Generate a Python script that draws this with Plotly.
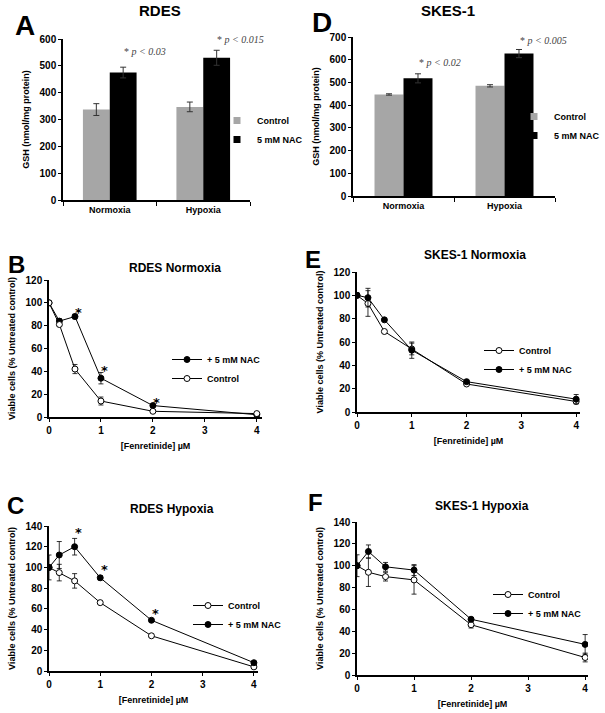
import plotly.graph_objects as go

# ---------------- data ----------------
conditions = ["Normoxia", "Hypoxia"]
rdes_gsh_control = [337, 347]
rdes_gsh_control_err = [22, 18]
rdes_gsh_nac = [475, 530]
rdes_gsh_nac_err = [20, 28]
rdes_p_labels = ["* <i>p < 0.03</i>", "* <i>p < 0.015</i>"]

skes_gsh_control = [447, 485]
skes_gsh_control_err = [3, 5]
skes_gsh_nac = [518, 627]
skes_gsh_nac_err = [20, 18]
skes_p_labels = ["* <i>p < 0.02</i>", "* <i>p < 0.005</i>"]

dose = [0, 0.2, 0.5, 1, 2, 4]
rdes_norm_ctrl = [100, 81, 42, 14, 5, 3]
rdes_norm_ctrl_err = [0, 1.5, 4, 3.5, 1, 1]
rdes_norm_nac = [100, 84, 88, 34, 10, 2]
rdes_norm_nac_err = [0, 2, 2, 5, 1, 1]
rdes_norm_sig = [0.5, 1, 2]

skes_norm_ctrl = [100, 93, 69, 54, 24, 9]
skes_norm_ctrl_err = [1, 11, 1, 5, 1, 1]
skes_norm_nac = [100, 98, 79, 53, 26, 11]
skes_norm_nac_err = [2, 8, 1, 7, 1, 4]

rdes_hyp_ctrl = [100, 95, 87, 66, 34, 4]
rdes_hyp_ctrl_err = [12, 8, 7, 1, 1, 1]
rdes_hyp_nac = [100, 112, 120, 90, 49, 8]
rdes_hyp_nac_err = [0, 13, 8, 2, 1, 1]
rdes_hyp_sig = [0.5, 1, 2]

skes_hyp_ctrl = [100, 94, 90, 87, 46, 16]
skes_hyp_ctrl_err = [10, 13, 4, 13, 3, 4]
skes_hyp_nac = [100, 113, 99, 96, 51, 28]
skes_hyp_nac_err = [0, 6, 4, 5, 1, 9]

# ---------------- helpers ----------------
W, H = 605, 713
def px(x):
    return x / W
def py(y):
    return 1 - y / H

FONT = "Liberation Sans"
GRAY = "#a6a6a6"

fig = go.Figure()

cat_x = [i + 0.5 for i in range(len(conditions))]

def add_bars(xa, ya, ctrl, ctrl_err, nac, nac_err, leg):
    for vals, errs, name, col in [(ctrl, ctrl_err, "Control", GRAY), (nac, nac_err, "5 mM NAC", "black")]:
        fig.add_trace(go.Bar(x=cat_x, y=vals, name=name, marker_color=col,
                             marker_line_width=0, showlegend=False,
                             error_y=dict(type="data", array=errs, color="#333", thickness=1, width=3),
                             xaxis=xa, yaxis=ya))
        # small square legend key
        fig.add_trace(go.Scatter(x=[None], y=[None], mode="markers", name=name,
                                 marker=dict(symbol="square", size=7, color=col),
                                 xaxis=xa, yaxis=ya, legend=leg))

add_bars("x", "y", rdes_gsh_control, rdes_gsh_control_err, rdes_gsh_nac, rdes_gsh_nac_err, "legend")
add_bars("x2", "y2", skes_gsh_control, skes_gsh_control_err, skes_gsh_nac, skes_gsh_nac_err, "legend2")

def line_trace(y, err, name, filled, xa, ya, leg):
    return go.Scatter(x=dose, y=y, name=name, mode="lines+markers",
                      line=dict(color="black", width=1),
                      marker=dict(symbol="circle", size=6,
                                  color="black" if filled else "white",
                                  line=dict(color="black", width=1)),
                      error_y=dict(type="data", array=err, color="black", thickness=0.8, width=2.5),
                      xaxis=xa, yaxis=ya, legend=leg)

# B (NAC listed first in legend)
fig.add_trace(line_trace(rdes_norm_nac, rdes_norm_nac_err, "+ 5 mM NAC", True, "x3", "y3", "legend3"))
fig.add_trace(line_trace(rdes_norm_ctrl, rdes_norm_ctrl_err, "Control", False, "x3", "y3", "legend3"))
# E
fig.add_trace(line_trace(skes_norm_ctrl, skes_norm_ctrl_err, "Control", False, "x4", "y4", "legend4"))
fig.add_trace(line_trace(skes_norm_nac, skes_norm_nac_err, "+ 5 mM NAC", True, "x4", "y4", "legend4"))
# C
fig.add_trace(line_trace(rdes_hyp_ctrl, rdes_hyp_ctrl_err, "Control", False, "x5", "y5", "legend5"))
fig.add_trace(line_trace(rdes_hyp_nac, rdes_hyp_nac_err, "+ 5 mM NAC", True, "x5", "y5", "legend5"))
# F
fig.add_trace(line_trace(skes_hyp_ctrl, skes_hyp_ctrl_err, "Control", False, "x6", "y6", "legend6"))
fig.add_trace(line_trace(skes_hyp_nac, skes_hyp_nac_err, "+ 5 mM NAC", True, "x6", "y6", "legend6"))

tickfont = dict(family=FONT, size=10, color="black", weight="bold")
titlefont = dict(family=FONT, size=9, color="black", weight="bold")

def bar_xaxis(x0, x1, anchor):
    return dict(domain=[px(x0), px(x1)], range=[0, 2], anchor=anchor, automargin=False,
                tickmode="array", tickvals=cat_x, ticktext=conditions, ticks="",
                tickfont=dict(family=FONT, size=9, color="black", weight="bold"),
                showline=True, linecolor="black", linewidth=1.5,
                showgrid=False, zeroline=False, fixedrange=True,
                minor=dict(tick0=0, dtick=1, ticks="outside", ticklen=4, tickcolor="black", tickwidth=1))

def yax(y0, y1, rng, dt, anchor, title):
    return dict(domain=[py(y1), py(y0)], range=rng, dtick=dt, anchor=anchor, automargin=False,
                ticks="outside", ticklen=3, tickcolor="black", tickwidth=1,
                tickfont=tickfont, showline=True, linecolor="black", linewidth=1.5,
                showgrid=False, zeroline=False,
                title=dict(text=title, font=titlefont, standoff=8))

def line_xaxis(x0, x1, xmax, anchor):
    return dict(domain=[px(x0), px(x1)], range=[0, xmax], dtick=1, anchor=anchor, automargin=False,
                ticks="outside", ticklen=3, tickcolor="black", tickwidth=1,
                tickfont=tickfont, showline=True, linecolor="black", linewidth=1.5,
                showgrid=False, zeroline=False,
                title=dict(text="[Fenretinide] µM", font=titlefont, standoff=8))

viab = "Viable cells (% Untreated control)"
gsh = "GSH (nmol/mg protein)"

legend_common = dict(font=dict(family=FONT, size=9, color="black", weight="bold"),
                     bgcolor="rgba(0,0,0,0)", borderwidth=0, xanchor="left", yanchor="top",
                     tracegroupgap=0, itemwidth=30)

def leg(x, y):
    d = dict(legend_common)
    d.update(x=px(x), y=py(y))
    return d

fig.update_layout(
    width=W, height=H, margin=dict(l=0, r=0, t=0, b=0, autoexpand=False),
    paper_bgcolor="white", plot_bgcolor="white",
    barmode="group", bargap=0.426, bargroupgap=0,
    font=dict(family=FONT, color="black"),
    xaxis=bar_xaxis(63, 250, "y"),
    yaxis=yax(39, 200, [0, 600], 100, "x", gsh),
    xaxis2=bar_xaxis(353, 555, "y2"),
    yaxis2=yax(37, 196, [0, 700], 100, "x2", gsh),
    xaxis3=line_xaxis(49, 262, 4.1, "y3"),
    yaxis3=yax(280, 417, [0, 120], 20, "x3", viab),
    xaxis4=line_xaxis(357, 580, 4.07, "y4"),
    yaxis4=yax(272, 412, [0, 120], 20, "x4", viab),
    xaxis5=line_xaxis(49, 258, 4.08, "y5"),
    yaxis5=yax(526, 671, [0, 140], 20, "x5", viab),
    xaxis6=line_xaxis(357, 588, 4.05, "y6"),
    yaxis6=yax(522, 675, [0, 140], 20, "x6", viab),
    legend=leg(217, 106),
    legend2=leg(514, 102),
    legend3=leg(167, 345),
    legend4=leg(479, 336),
    legend5=leg(188, 591),
    legend6=leg(488, 580),
    showlegend=True,
)

annotations = []
def paper_text(text, x, y, size):
    annotations.append(dict(text=text, x=px(x), y=py(y), xref="paper", yref="paper",
                            showarrow=False, xanchor="center", yanchor="middle",
                            font=dict(family=FONT, size=size, color="black", weight="bold")))

paper_text("RDES", 160, 10, 15)
paper_text("A", 25, 25, 28)
paper_text("SKES-1", 448, 11, 15)
paper_text("D", 322, 23, 28)
paper_text("RDES Normoxia", 175, 268, 12)
paper_text("B", 16, 264, 24)
paper_text("SKES-1 Normoxia", 475, 255, 12)
paper_text("E", 313, 259, 24)
paper_text("RDES Hypoxia", 172, 509, 12)
paper_text("C", 15, 505, 24)
paper_text("SKES-1 Hypoxia", 482, 506, 12)
paper_text("F", 315, 502, 24)

# p-value labels above NAC bars
def p_labels(labels, nac, err, xa, ya, shifts):
    for i, lab in enumerate(labels):
        annotations.append(dict(text=lab, x=cat_x[i] + 0.13, y=nac[i] + err[i],
                                xref=xa, yref=ya, showarrow=False, xanchor="left", yanchor="bottom",
                                yshift=shifts[i],
                                font=dict(family="Liberation Serif", size=10, color="#444")))

p_labels(rdes_p_labels, rdes_gsh_nac, rdes_gsh_nac_err, "x", "y", [8, 3])
p_labels(skes_p_labels, skes_gsh_nac, skes_gsh_nac_err, "x2", "y2", [4, 1])

# significance asterisks on NAC curves
def sig_marks(sig, nac, err, xa, ya, yshift):
    for s in sig:
        i = dose.index(s)
        annotations.append(dict(text="<b>*</b>", x=s, y=nac[i] + err[i], xref=xa, yref=ya,
                                showarrow=False, xanchor="center", yanchor="middle",
                                xshift=4, yshift=yshift,
                                font=dict(family="DejaVu Sans", size=13, color="black")))

sig_marks(rdes_norm_sig, rdes_norm_nac, rdes_norm_nac_err, "x3", "y3", 2)
sig_marks(rdes_hyp_sig, rdes_hyp_nac, rdes_hyp_nac_err, "x5", "y5", 6)

fig.update_layout(annotations=annotations)

fig.write_html("out.html", config={"displayModeBar": False},
               post_script="document.body.style.margin='0px';")
